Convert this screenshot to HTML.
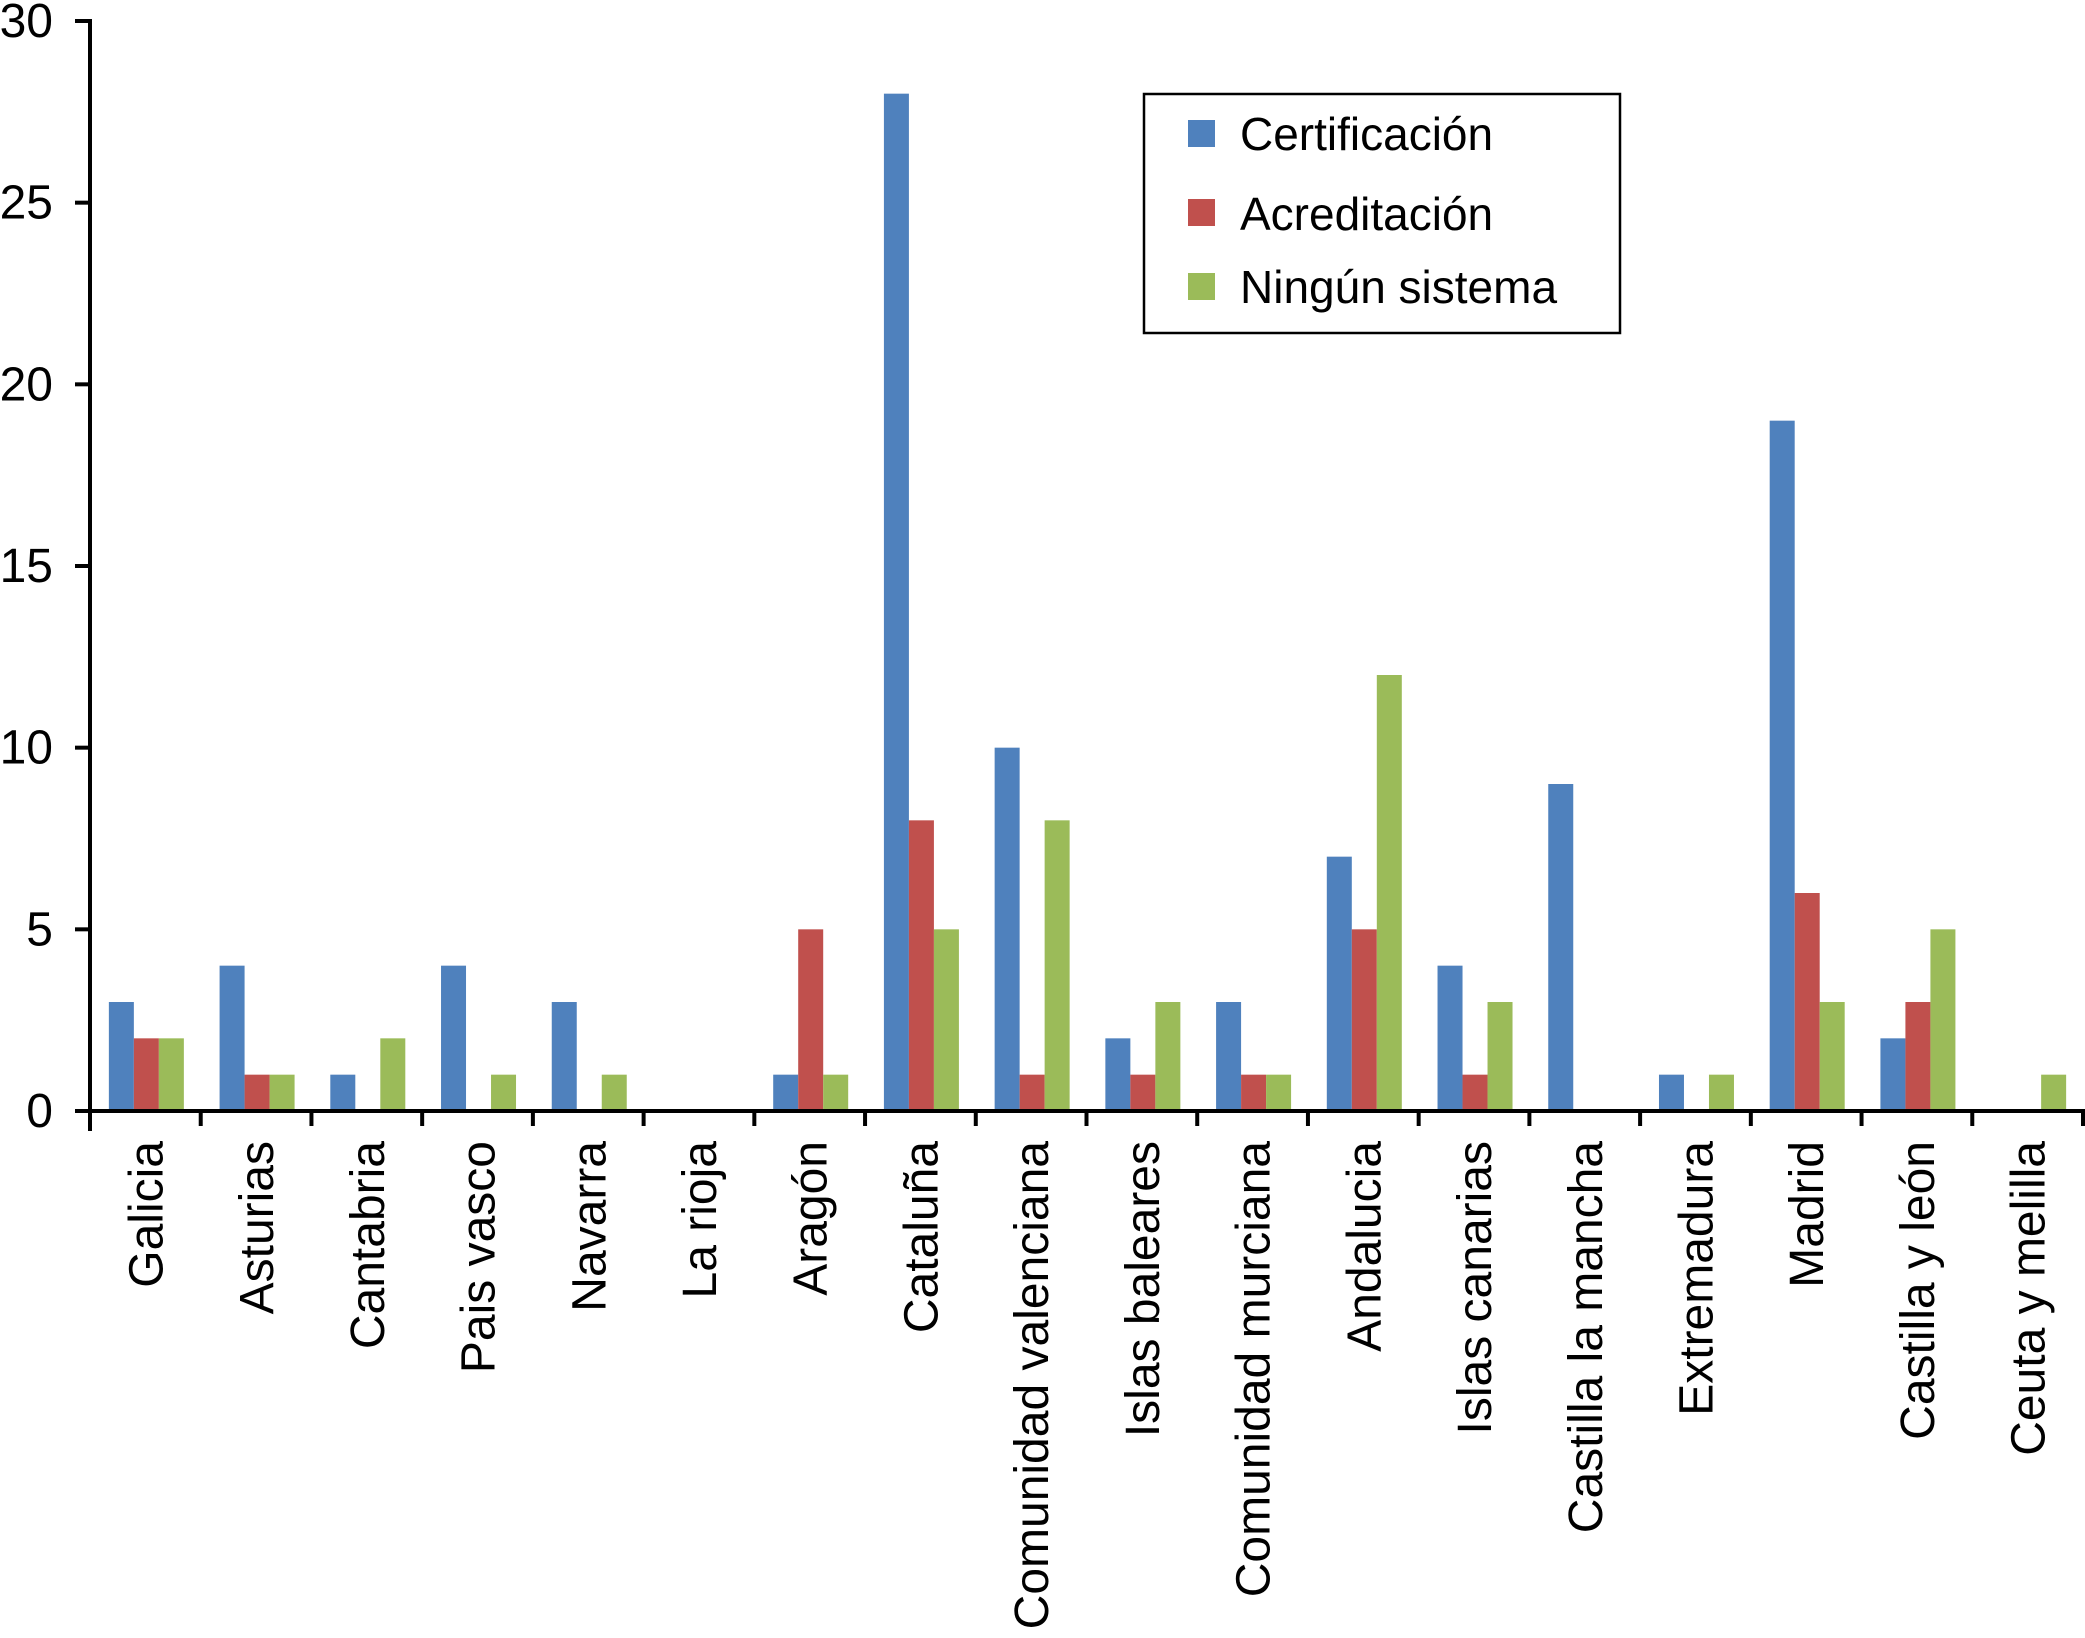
<!DOCTYPE html>
<html><head><meta charset="utf-8"><style>
html,body{margin:0;padding:0;background:#fff;}
svg{display:block;font-family:"Liberation Sans",Arial,sans-serif;}
</style></head><body>
<svg id="chart" width="2085" height="1638" viewBox="0 0 2085 1638" xmlns="http://www.w3.org/2000/svg">
<g id="bars"></g>
<g id="axes"></g>
<g id="legend">
  <rect x="1144" y="94" width="476" height="239" fill="#fff" stroke="#000" stroke-width="2.5"/>
  <rect x="1188" y="120" width="27" height="27" fill="#4F81BD"/>
  <text x="1240" y="150" font-size="46">Certificación</text>
  <rect x="1188" y="199" width="27" height="27" fill="#C0504D"/>
  <text x="1240" y="230" font-size="46">Acreditación</text>
  <rect x="1188" y="273" width="27" height="27" fill="#9BBB59"/>
  <text x="1240" y="303" font-size="46">Ningún sistema</text>
</g>
</svg>
<script>
const categories = ["Galicia","Asturias","Cantabria","Pais vasco","Navarra","La rioja","Aragón","Cataluña","Comunidad valenciana","Islas baleares","Comunidad murciana","Andalucia","Islas canarias","Castilla la mancha","Extremadura","Madrid","Castilla y león","Ceuta y melilla"];
const certificacion = [3,4,1,4,3,0,1,28,10,2,3,7,4,9,1,19,2,0];
const acreditacion = [2,1,0,0,0,0,5,8,1,1,1,5,1,0,0,6,3,0];
const ningunSistema = [2,1,2,1,1,0,1,5,8,3,1,12,3,0,1,3,5,1];
const yTicks = [0,5,10,15,20,25,30];

const NS = "http://www.w3.org/2000/svg";
const x0 = 90, x1 = 2083, yZero = 1111, yTop = 21, yMax = 30;
const catW = (x1 - x0) / categories.length;
const barW = 25;
function yScale(v){ return yZero - (yZero - yTop) * v / yMax; }
function xCat(i){ return x0 + catW * i; }
function mk(tag, attrs){ const e = document.createElementNS(NS, tag); for (const k in attrs) e.setAttribute(k, attrs[k]); return e; }

const bars = document.getElementById('bars');
const series = [[certificacion,'#4F81BD','certificacion'],[acreditacion,'#C0504D','acreditacion'],[ningunSistema,'#9BBB59','ningun-sistema']];
categories.forEach((c, i) => {
  const center = xCat(i) + catW / 2 + 1;
  series.forEach((s, j) => {
    const v = s[0][i];
    if (v <= 0) return;
    const r = mk('rect', {x: center - 1.5 * barW + j * barW, y: yScale(v), width: barW, height: yZero - yScale(v), fill: s[1]});
    
    
    bars.appendChild(r);
  });
});

const axes = document.getElementById('axes');
const yl = mk('line', {x1: x0, y1: yTop - 2, x2: x0, y2: yZero + 20, stroke: '#000', 'stroke-width': 4});


axes.appendChild(yl);
const xl = mk('line', {x1: x0 - 15, y1: yZero, x2: x1 + 2, y2: yZero, stroke: '#000', 'stroke-width': 4});


axes.appendChild(xl);
yTicks.forEach(t => {
  const y = yScale(t);
  const tk = mk('line', {x1: x0 - 15, y1: y, x2: x0, y2: y, stroke: '#000', 'stroke-width': 4});
  
  
  axes.appendChild(tk);
  const tx = mk('text', {x: 53, y: y + 16, 'font-size': 48, 'text-anchor': 'end'});
  tx.textContent = t;
  
  
  axes.appendChild(tx);
});
for (let i = 0; i <= categories.length; i++) {
  const x = xCat(i);
  const tk = mk('line', {x1: x, y1: yZero, x2: x, y2: yZero + 15, stroke: '#000', 'stroke-width': 4});
  
  
  axes.appendChild(tk);
}
categories.forEach((c, i) => {
  const cx = xCat(i) + catW / 2 + 17;
  const tx = mk('text', {x: cx, y: 1141, 'font-size': 48, 'text-anchor': 'end', transform: 'rotate(-90 ' + cx + ' 1141)'});
  tx.textContent = c;
  
  
  axes.appendChild(tx);
});
</script>
</body></html>
